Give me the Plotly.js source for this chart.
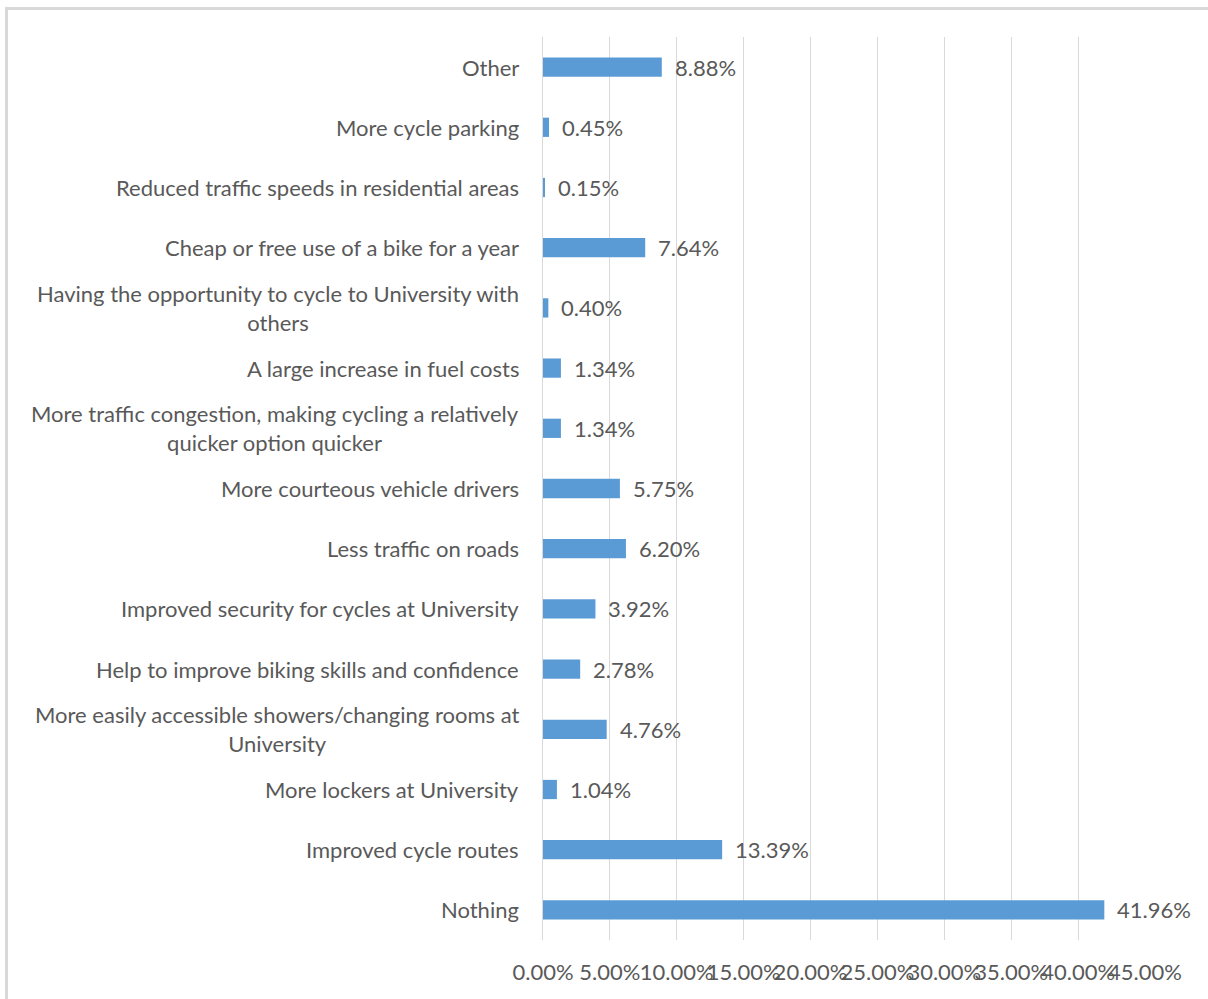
<!DOCTYPE html>
<html>
<head>
<meta charset="utf-8">
<script src="https://cdn.plot.ly/plotly-3.0.1.min.js"></script>
<style>
  html, body { margin: 0; padding: 0; background: #ffffff; }
  #wrap { position: relative; width: 1208px; height: 999px; overflow: hidden; }
  #chart { position: absolute; left: 0; top: 0; width: 1208px; height: 999px; }
  #frame { position: absolute; left: 5px; top: 7px; width: 1300px; height: 1100px;
           border-left: 3px solid #d9d9d9; border-top: 3px solid #d9d9d9; pointer-events: none; }
</style>
</head>
<body>
<div id="wrap">
  <div id="chart"></div>
  <div id="frame"></div>
</div>
<script>
// Responses, listed bottom to top as they appear on the axis
const categories = [
  "Nothing",
  "Improved cycle routes",
  "More lockers at University",
  "More easily accessible showers/changing rooms at<br>University",
  "Help to improve biking skills and confidence",
  "Improved security for cycles at University",
  "Less traffic on roads",
  "More courteous vehicle drivers",
  "More traffic congestion, making cycling a relatively<br>quicker option quicker",
  "A large increase in fuel costs",
  "Having the opportunity to cycle to University with<br>others",
  "Cheap or free use of a bike for a year",
  "Reduced traffic speeds in residential areas",
  "More cycle parking",
  "Other"
];
const percentages = [41.96, 13.39, 1.04, 4.76, 2.78, 3.92, 6.20, 5.75, 1.34, 1.34, 0.40, 7.64, 0.15, 0.45, 8.88];
const tickValues = [0, 5, 10, 15, 20, 25, 30, 35, 40, 45];
const tickLabels = tickValues.map(v => v.toFixed(2) + "%");

const FONT = "Lato, 'Open Sans', sans-serif";
const GREY = "#595959";
const SIZE = 22;
const idx = categories.map((_, i) => i);

const bars = {
  type: "bar",
  orientation: "h",
  x: percentages,
  y: idx,
  marker: { color: "#5b9bd5", line: { width: 0 } },
  hoverinfo: "skip"
};

// value labels just past each bar end
const valueNotes = percentages.map((v, i) => ({
  x: v, y: i, xref: "x", yref: "y",
  text: v.toFixed(2) + "%",
  showarrow: false, xanchor: "left", yanchor: "middle",
  xshift: 11,
  font: { family: FONT, size: SIZE, color: GREY }
}));

// category names, right-aligned block with centred wrapped lines
const categoryNotes = categories.map((c, i) => ({
  x: 0, y: i, xref: "paper", yref: "y",
  text: c,
  showarrow: false, xanchor: "right", yanchor: "middle",
  align: "center", xshift: -22,
  font: { family: FONT, size: SIZE, color: GREY }
}));

const layout = {
  width: 1208, height: 999,
  margin: { l: 543, r: 63, t: 37, b: 59, pad: 0 },
  paper_bgcolor: "#ffffff",
  plot_bgcolor: "#ffffff",
  showlegend: false,
  bargap: 0.68,
  font: { family: FONT, size: SIZE, color: GREY },
  xaxis: {
    range: [0, 45],
    tickvals: tickValues,
    ticktext: tickLabels,
    tickangle: 0,
    showgrid: true, gridcolor: "#d9d9d9", gridwidth: 1,
    zeroline: false, showline: false,
    ticks: "outside", ticklen: 13, tickcolor: "rgba(0,0,0,0)",
    tickfont: { family: FONT, size: SIZE, color: GREY },
    fixedrange: true
  },
  yaxis: {
    range: [-0.5, categories.length - 0.5],
    showticklabels: false, showgrid: false, zeroline: false,
    showline: true, linecolor: "#d9d9d9", linewidth: 1,
    ticks: "", fixedrange: true
  },
  annotations: categoryNotes.concat(valueNotes)
};

Plotly.newPlot("chart", [bars], layout, { displayModeBar: false, staticPlot: true });
</script>
</body>
</html>
